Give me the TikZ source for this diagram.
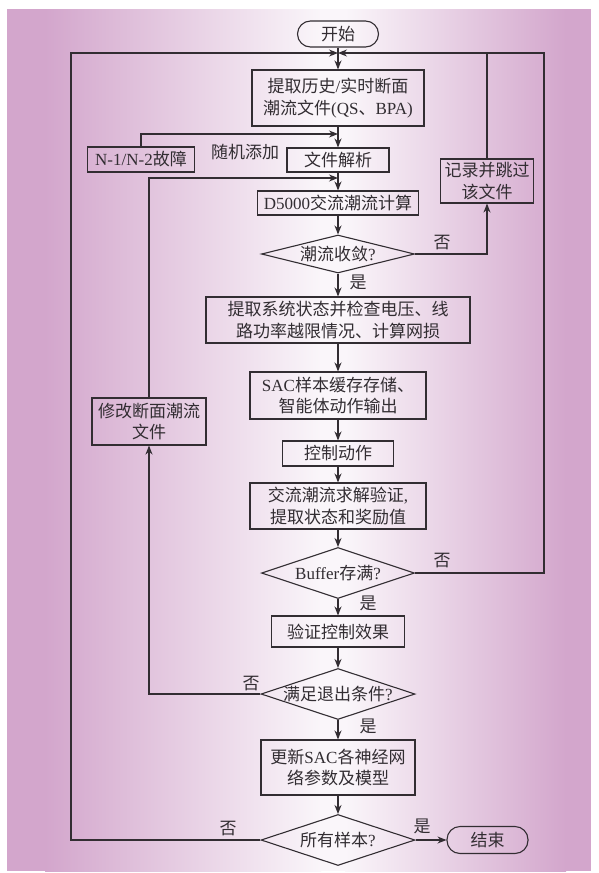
\documentclass[tikz,border=0pt]{standalone}
\usepackage{fontspec}
\setmainfont{Noto Sans CJK SC}
\newfontfamily\lat{Liberation Serif}
\newcommand\LT[1]{{\lat #1}}
\usetikzlibrary{shapes.geometric,arrows.meta}
\definecolor{purp}{RGB}{211,166,204}
\definecolor{lite}{RGB}{250,246,250}
\definecolor{ink}{RGB}{50,45,50}
\begin{document}
\begin{tikzpicture}[x=1pt,y=-1pt,
  every node/.style={font=\fontsize{17}{21.5}\selectfont, text=ink},
  box/.style={draw=ink, line width=1.1pt, rectangle, inner sep=0pt, align=center},
  dia/.style={draw=ink, line width=1.1pt, diamond, inner sep=0pt, aspect=3, text height=13pt, text depth=0pt},
  term/.style={draw=ink, line width=1.1pt, rectangle, rounded corners=13pt, inner sep=0pt},
  link/.style={draw=ink, line width=1.1pt},
  arr/.style={link, -{Stealth[length=9pt,width=7pt]}},
  lbl/.style={inner sep=0pt}]
\useasboundingbox (0,0) rectangle (598,873);
% background
\fill[white] (0,0) rectangle (598,873);
\fill[purp] (7,9) rectangle (46,871);
\shade[left color=purp, right color=lite] (45,9) rectangle (321,871);
\fill[lite] (320,9) rectangle (346,871);
\shade[left color=lite, right color=purp] (345,9) rectangle (566,871);
\fill[purp] (565,9) rectangle (591,871);

% nodes
\node[term, minimum width=81pt, minimum height=26pt] (start) at (338,34) {开始};
\node[box, minimum width=172pt, minimum height=56pt] (b1) at (338,98) {提取历史\LT{/}实时断面\\潮流文件\LT{(QS}、\LT{BPA)}};
\node[box, minimum width=107pt, minimum height=25pt] (n12) at (141,159.5) {\LT{N-1/N-2}故障};
\node[lbl] (add) at (245,152) {随机添加};
\node[box, minimum width=102pt, minimum height=24pt] (parse) at (338,160) {文件解析};
\node[box, minimum width=161pt, minimum height=24pt] (d5) at (338,203) {\LT{D5000}交流潮流计算};
\node[box, minimum width=93pt, minimum height=44pt] (rec) at (487,181) {记录并跳过\\该文件};
\node[dia, aspect=4, minimum width=153pt, minimum height=38pt] (conv) at (338,254) {潮流收敛\LT{?}};
\node[box, minimum width=264pt, minimum height=46pt] (state) at (338,320) {提取系统状态并检查电压、线\\路功率越限情况、计算网损};
\node[box, minimum width=176pt, minimum height=47pt] (sac) at (338,395.5) {\LT{SAC}样本缓存存储、\\智能体动作输出};
\node[box, minimum width=114pt, minimum height=47pt] (mod) at (149,421.5) {修改断面潮流\\文件};
\node[box, minimum width=111pt, minimum height=25pt] (ctrl) at (338,453.5) {控制动作};
\node[box, minimum width=176pt, minimum height=46pt] (ac) at (338,506) {交流潮流求解验证\LT{,}\\提取状态和奖励值};
\node[dia, minimum width=153pt, minimum height=51pt] (buf) at (338,573) {\LT{Buffer}存满\LT{?}};
\node[box, minimum width=133pt, minimum height=31pt] (ver) at (338,631.5) {验证控制效果};
\node[dia, minimum width=154pt, minimum height=51pt] (exit) at (338,694) {满足退出条件\LT{?}};
\node[box, minimum width=154pt, minimum height=55pt] (upd) at (338,767.5) {更新\LT{SAC}各神经网\\络参数及模型};
\node[dia, minimum width=154pt, minimum height=51pt] (all) at (338,840) {所有样本\LT{?}};
\node[term, minimum width=81pt, minimum height=27pt] (end) at (487.5,840) {结束};

% labels
\node[lbl] (no1) at (442,243) {否};
\node[lbl] (yes1) at (358,282) {是};
\node[lbl] (no2) at (442,561) {否};
\node[lbl] (yes2) at (368,603) {是};
\node[lbl] (no3) at (251,684) {否};
\node[lbl] (yes3) at (368,726) {是};
\node[lbl] (no4) at (228,829) {否};
\node[lbl] (yes4) at (422,826) {是};

% junction coordinates
\coordinate (jt) at (338,53);
\coordinate (j1) at (338,134);
\coordinate (j2) at (338,178);
\coordinate (Ltop) at (71,53);
\coordinate (Rtop) at (544,53);

% connectors
\draw[arr] (start) -- (b1);
\draw[arr] (all.west) -| (Ltop) -- (jt);
\draw[arr] (buf.east) -| (Rtop) -- (jt);
\draw[link] (rec.north) -- (rec.north |- jt);
\draw[arr] (conv.east) -| (rec.south);
\draw[arr] (b1) -- (parse);
\draw[arr] (n12.north) |- (j1);
\draw[arr] (parse) -- (d5);
\draw[arr] (mod.north) |- (j2);
\draw[arr] (d5) -- (conv);
\draw[arr] (conv) -- (state);
\draw[arr] (state) -- (sac);
\draw[arr] (sac) -- (ctrl);
\draw[arr] (ctrl) -- (ac);
\draw[arr] (ac) -- (buf);
\draw[arr] (buf) -- (ver);
\draw[arr] (ver) -- (exit);
\draw[arr] (exit.west) -| (mod.south);
\draw[arr] (exit) -- (upd);
\draw[arr] (upd) -- (all);
\draw[arr] (all) -- (end);
\end{tikzpicture}
\end{document}
